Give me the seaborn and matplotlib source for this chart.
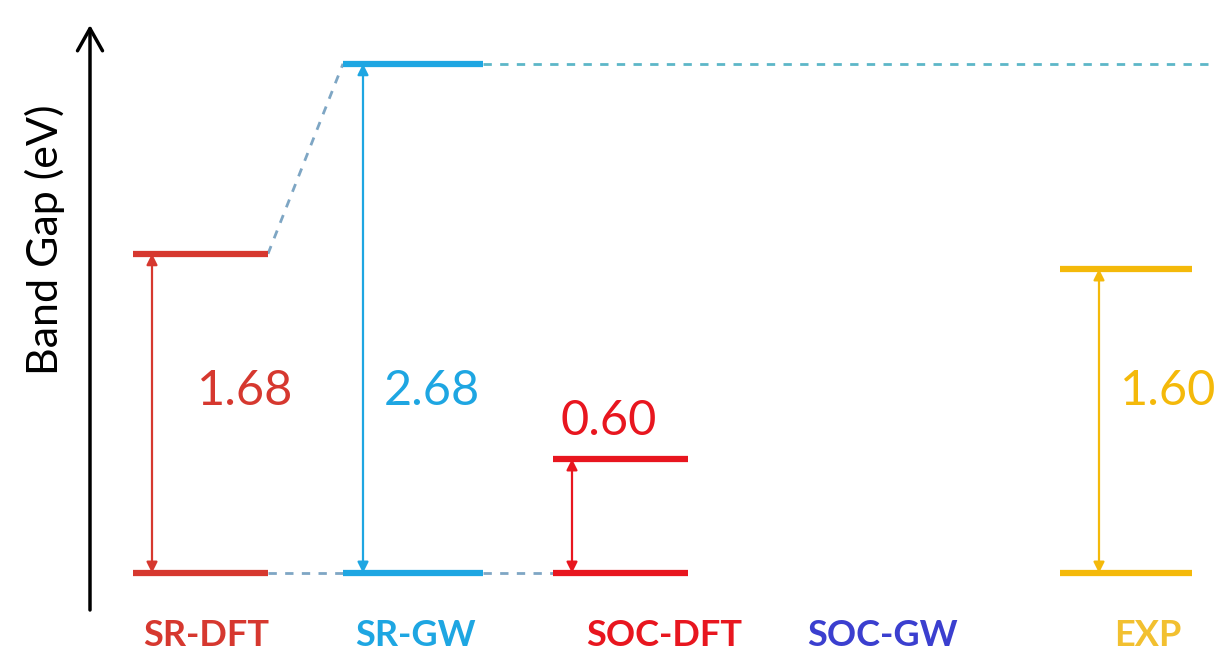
import numpy as np
import pandas as pd
import matplotlib.pyplot as plt
import seaborn as sns

# data
methods = ['SR-DFT', 'SR-GW', 'SOC-DFT', 'SOC-GW', 'EXP']
gaps = [1.68, 2.68, 0.60, np.nan, 1.60]
colors = ['#d6382f', '#1ea6e2', '#e8161f', '#3b3fcf', '#f4b90a']
label_colors = ['#d6382f', '#1ea6e2', '#e8161f', '#3b3fcf', '#f2c030']

# layout (pixel-like x units, eV on y)
lvl_left = [133, 343, 553, None, 1060]
lvl_right = [268, 483, 688, None, 1192]
arrow_x = [152, 363, 572, None, 1099]
label_x = [206, 415, 664, 882, 1148]
text_pos = [(245, 0.96), (432, 0.96), (609, 0.80), None, (1168, 0.96)]

sns.set_theme(style='white')
plt.rcParams['font.family'] = ['Lato', 'DejaVu Sans']

fig = plt.figure(figsize=(12.32, 6.59), dpi=100)
ax = fig.add_axes([0, 0, 1, 1])
ax.set_xlim(0, 1232)
px = 190.0  # pixels per eV
ax.set_ylim(-86 / px, 573 / px)
ax.axis('off')

df = pd.DataFrame({'method': methods, 'gap': gaps, 'color': colors})

for i, row in df.iterrows():
    if np.isnan(row['gap']):
        continue
    # bottom and top levels
    for y in (0, row['gap']):
        ax.plot([lvl_left[i], lvl_right[i]], [y, y], color=row['color'],
                lw=4.5, solid_capstyle='butt', zorder=3)
    # double arrow
    ax.annotate('', xy=(arrow_x[i], row['gap']), xytext=(arrow_x[i], 0),
                arrowprops=dict(arrowstyle='<|-|>', color=row['color'], lw=1.6,
                                mutation_scale=16, shrinkA=0, shrinkB=0),
                zorder=2)
    tx, ty = text_pos[i]
    ax.text(tx, ty, f"{row['gap']:.2f}", color=row['color'], fontsize=35,
            ha='center', va='center')

# dashed connectors
dash_col = '#7ea6c4'
sns.lineplot(x=[lvl_right[0], lvl_left[1]], y=[0, 0], ax=ax, color=dash_col,
             lw=2, linestyle=(0, (3, 3)))
sns.lineplot(x=[lvl_right[1], lvl_left[2]], y=[0, 0], ax=ax, color=dash_col,
             lw=2, linestyle=(0, (3, 3)))
ax.plot([lvl_right[0], lvl_left[1]], [gaps[0], gaps[1]], color=dash_col,
        lw=2, linestyle=(0, (3, 3)))
ax.plot([lvl_right[1], 1215], [gaps[1], gaps[1]], color='#5db7c8',
        lw=2, linestyle=(0, (3, 3)))

# method labels
for i, m in enumerate(methods):
    ax.text(label_x[i], -62 / px, m, color=label_colors[i], fontsize=26,
            fontweight='bold', ha='center', va='center')

# vertical axis arrow
ax.annotate('', xy=(90, 548 / px), xytext=(90, -37 / px),
            arrowprops=dict(arrowstyle='->,head_length=0.8,head_width=0.45',
                            color='black', lw=2.5, mutation_scale=20,
                            shrinkA=0, shrinkB=0))
ax.text(45, (573 - 240) / px, 'Band Gap (eV)', rotation=90, fontsize=31,
        ha='center', va='center', color='black')

fig.savefig('out.png', dpi=100)
